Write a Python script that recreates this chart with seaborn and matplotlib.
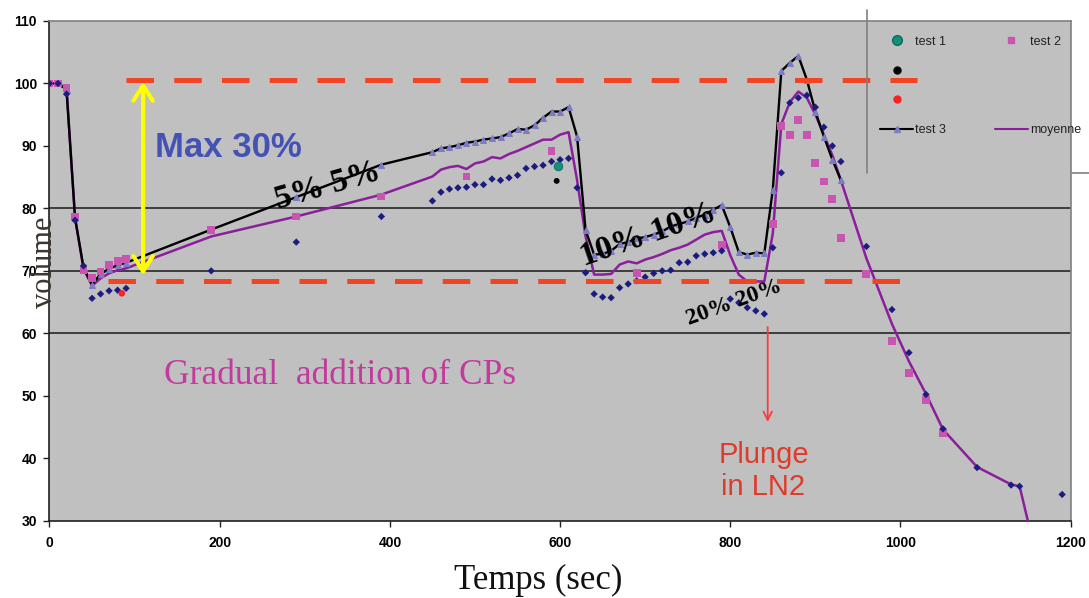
import matplotlib
matplotlib.use("Agg")
import matplotlib.pyplot as plt
from matplotlib.lines import Line2D
import pandas as pd
import seaborn as sns

# ---------------- data ----------------
test3_time = [0, 10, 20, 30, 40, 50, 60, 70, 80, 90, 190, 290, 390,
              450, 460, 470, 480, 490, 500, 510, 520, 530, 540, 550, 560, 570, 580, 590, 600, 610,
              620, 630, 640, 650, 660, 670, 680, 690, 700, 710, 720, 730, 740, 750, 760, 770, 780, 790,
              800, 810, 820, 830, 840, 850, 860, 870, 880, 890, 900, 910, 920, 930]
test3_vol = [100, 100, 99, 78.5, 70.5, 67.8, 69.5, 70.3, 70.9, 71.3, 76.6, 81.8, 87.0,
             89.0, 89.6, 89.8, 90.1, 90.5, 90.7, 91.0, 91.2, 91.4, 92.0, 92.7, 92.6, 93.3, 94.5, 95.5, 95.5, 96.2,
             91.5, 76.5, 72.6, 72.7, 73.2, 74.3, 74.6, 75.2, 75.4, 75.8, 76.3, 77.1, 77.5, 77.9, 78.5, 79.0, 79.8, 80.5,
             77.0, 73.0, 72.6, 72.9, 72.8, 83.0, 102.0, 103.3, 104.4, 100.6, 95.5, 91.5, 87.8, 84.5]

moy_time = [0, 10, 20, 30, 40, 50, 60, 70, 80, 90, 190, 290, 390,
            450, 460, 470, 480, 490, 500, 510, 520, 530, 540, 550, 560, 570, 580, 590, 600, 610,
            620, 630, 640, 650, 660, 670, 680, 690, 700, 710, 720, 730, 740, 750, 760, 770, 780, 790,
            800, 810, 820, 830, 840, 850, 860, 870, 880, 890, 900, 910, 920, 930,
            960, 990, 1010, 1030, 1050, 1090, 1130, 1140, 1150]
moy_vol = [100, 100, 99.2, 78.5, 70.3, 67.6, 68.8, 69.6, 70.1, 70.4, 75.5, 78.7, 82.2,
           85.1, 86.2, 86.6, 86.8, 86.3, 87.2, 87.5, 88.2, 88.0, 88.7, 89.2, 89.8, 90.4, 91.0, 91.0, 91.8, 92.2,
           84.5, 75.5, 69.4, 69.4, 69.5, 71.0, 71.5, 71.2, 71.8, 72.2, 72.7, 73.3, 73.7, 74.2, 75.0, 75.8, 76.2, 76.4,
           72.5, 69.4, 68.3, 68.3, 68.3, 76.0, 93.5, 97.0, 98.7, 97.7, 95.0, 91.8, 88.5, 84.5,
           72.0, 61.5, 55.5, 50.3, 44.6, 38.6, 35.8, 35.5, 29.8]

test1_time = [0, 10, 20, 30, 40, 50, 60, 70, 80, 90, 190, 290, 390,
              450, 460, 470, 480, 490, 500, 510, 520, 530, 540, 550, 560, 570, 580, 590, 600, 610,
              620, 630, 640, 650, 660, 670, 680, 690, 700, 710, 720, 730, 740, 750, 760, 770, 780, 790,
              800, 810, 820, 830, 840, 850, 860, 870, 880, 890, 900, 910, 920, 930,
              960, 990, 1010, 1030, 1050, 1090, 1130, 1140, 1190]
test1_vol = [100, 100, 98.3, 78.1, 70.8, 65.6, 66.3, 66.8, 66.9, 67.2, 70.0, 74.6, 78.7,
             81.2, 82.6, 83.1, 83.3, 83.4, 83.8, 83.8, 84.7, 84.5, 84.9, 85.3, 86.4, 86.7, 86.9, 87.5, 87.8, 88.0,
             83.3, 69.7, 66.3, 65.8, 65.7, 67.3, 67.9, 68.4, 69.0, 69.6, 70.0, 70.1, 71.3, 71.4, 72.4, 72.7, 72.9, 73.2,
             65.5, 64.9, 64.1, 63.6, 63.1, 73.7, 85.7, 96.9, 97.7, 98.1, 96.2, 93.0, 90.0, 87.5,
             73.9, 63.8, 56.9, 50.2, 44.7, 38.5, 35.7, 35.5, 34.2]

test2_time = [0, 10, 20, 30, 40, 50, 60, 70, 80, 90, 190, 290, 390, 490, 590, 690, 790,
              850, 860, 870, 880, 890, 900, 910, 920, 930, 960, 990, 1010, 1030, 1050]
test2_vol = [100, 100, 99.3, 78.7, 70.2, 68.8, 69.9, 71.0, 71.6, 71.9, 76.5, 78.7, 81.9, 85.1, 89.2, 69.7, 74.1,
             77.5, 93.2, 91.8, 94.1, 91.7, 87.3, 84.3, 81.5, 75.3, 69.5, 58.7, 53.7, 49.3, 44.0]

green_time, green_vol = [597], [86.8]
black_time, black_vol = [596], [84.4]
red_time, red_vol = [85], [66.4]

ref_levels = [100.6, 68.4]          # dashed red reference levels
ref_starts = [90, 69]
ref_ends = [1020, 1006]
grid_levels = [60, 70, 80]
x_ticks = [0, 200, 400, 600, 800, 1000, 1200]
y_ticks = [30, 40, 50, 60, 70, 80, 90, 100, 110]

# ---------------- style ----------------
sns.set_style("white")
plt.rcParams['font.family'] = ['Liberation Sans', 'DejaVu Sans']
plt.rcParams['text.color'] = 'black'

fig = plt.figure(figsize=(10.89, 5.98), dpi=100)
ax = fig.add_axes([0.04545, 0.1293, 0.9377, 0.8356])
ax.set_facecolor('#C0C0C0')

for g in grid_levels:
    ax.axhline(g, color='#1a1a1a', lw=1.1, zorder=1)

# lines
sns.lineplot(x=moy_time, y=moy_vol, ax=ax, color='#8B1F9B', lw=1.8, sort=False,
             estimator=None, zorder=3)
sns.lineplot(x=test3_time, y=test3_vol, ax=ax, color='black', lw=1.7, sort=False,
             estimator=None, marker='^', markersize=5, markerfacecolor='#7C7CC4',
             markeredgecolor='#7C7CC4', zorder=3)

# scatter series
sns.scatterplot(x=test2_time, y=test2_vol, ax=ax, marker='s', s=32, color='#C856B0',
                edgecolor='none', zorder=4)
sns.scatterplot(x=test1_time, y=test1_vol, ax=ax, marker='D', s=14, color='#1C1C80',
                edgecolor='none', zorder=4)
sns.scatterplot(x=green_time, y=green_vol, ax=ax, marker='o', s=40, color='#12907A',
                edgecolor='#0B6B5A', zorder=5)
sns.scatterplot(x=black_time, y=black_vol, ax=ax, marker='o', s=18, color='black',
                edgecolor='none', zorder=5)
sns.scatterplot(x=red_time, y=red_vol, ax=ax, marker='o', s=22, color='#FF2020',
                edgecolor='none', zorder=5)

# dashed reference lines
for lev, a, b in zip(ref_levels, ref_starts, ref_ends):
    ax.plot([a, b], [lev, lev], color='#F04424', lw=3.6, ls=(0, (5.5, 4.05)),
            dash_capstyle='butt', zorder=6)

# arrows
ax.annotate('', xy=(110, 100.3), xytext=(110, 69.3),
            arrowprops=dict(arrowstyle='<->,head_length=1.1,head_width=0.7',
                            color='#FFFF00', lw=3, shrinkA=0, shrinkB=0), zorder=7)
ax.annotate('', xy=(844, 45.8), xytext=(844, 61.0),
            arrowprops=dict(arrowstyle='->,head_length=0.6,head_width=0.3',
                            color='#FF3A3A', lw=1.3, shrinkA=0, shrinkB=0), zorder=7)

# annotation texts
ax.text(124, 89.7, 'Max 30%', color='#4352B4', fontsize=25, fontweight='bold',
        ha='left', va='center', zorder=8)
ax.text(327, 83.6, '5% 5%', family='Liberation Serif', fontsize=24, fontweight='bold',
        color='black', rotation=16, ha='center', va='center', rotation_mode='anchor', zorder=8)
ax.text(704, 75.8, '10% 10%', family='Liberation Serif', fontsize=24, fontweight='bold',
        color='black', rotation=19, ha='center', va='center', rotation_mode='anchor', zorder=8)
ax.text(804, 64.9, '20% 20%', family='Liberation Serif', fontsize=17, fontweight='bold',
        color='black', rotation=20, ha='center', va='center', rotation_mode='anchor', zorder=8)
ax.text(134, 53.3, 'Gradual  addition of CPs', family='Liberation Serif', fontsize=25.5,
        color='#C23A9E', ha='left', va='center', zorder=8)
ax.text(839, 38.0, 'Plunge\nin LN2', fontsize=21, color='#E03A2A', ha='center',
        va='center', linespacing=1.2, zorder=8)

# axes
ax.set_xlim(0, 1200)
ax.set_ylim(30, 110)
ax.set_xticks(x_ticks)
ax.set_yticks(y_ticks)
ax.tick_params(axis='both', direction='out', length=4, width=1, labelsize=10,
               color='#202020', labelcolor='black', left=True, bottom=True)
ax.tick_params(axis='x', pad=7)
ax.tick_params(axis='y', pad=5)
for lab in ax.get_xticklabels() + ax.get_yticklabels():
    lab.set_fontweight('bold')
ax.set_xlabel('')
ax.set_ylabel('')
for side in ['left', 'bottom']:
    ax.spines[side].set_color('#202020')
    ax.spines[side].set_linewidth(1.2)
for side in ['top', 'right']:
    ax.spines[side].set_color('#808080')
    ax.spines[side].set_linewidth(1.2)

fig.text(45 / 1089, 1 - 262 / 598, 'volume', rotation=90, family='Liberation Serif',
         fontsize=22, color='#3d3630', ha='center', va='center')
fig.text(538 / 1089, 1 - 580 / 598, 'Temps (sec)', family='Liberation Serif',
         fontsize=25, color='#111111', ha='center', va='center')

# legend
h_t1 = Line2D([], [], ls='none', marker='o', ms=7, mfc='#12907A', mec='#0B6B5A')
h_blk = Line2D([], [], ls='none', marker='o', ms=5, mfc='black', mec='black')
h_red = Line2D([], [], ls='none', marker='o', ms=5, mfc='#FF2020', mec='#FF2020')
h_t3 = Line2D([], [], color='black', lw=1.5, marker='^', ms=5, mfc='#7C7CC4', mec='#7C7CC4')
h_t2 = Line2D([], [], ls='none', marker='s', ms=5, mfc='#C856B0', mec='#C856B0')
h_emp = Line2D([], [], ls='none')
h_moy = Line2D([], [], color='#8B1F9B', lw=1.5)
leg = ax.legend([h_t1, h_blk, h_red, h_t3, h_t2, h_emp, h_emp, h_moy],
                ['test 1', '', '', 'test 3', 'test 2', '', '', 'moyenne'],
                ncol=2, loc='upper left', bbox_to_anchor=(0.8075, 0.983), frameon=False,
                borderpad=0, handlelength=2.6, handletextpad=0.2, columnspacing=3.9,
                labelspacing=1.4, fontsize=9)
for txt in leg.get_texts():
    txt.set_color('#222222')
leg.set_zorder(9)

fig.add_artist(Line2D([867 / 1089, 867 / 1089], [1 - 10 / 598, 1 - 173 / 598],
                      transform=fig.transFigure, color='#808080', lw=1.2))
fig.add_artist(Line2D([1072 / 1089, 1.0], [1 - 173 / 598, 1 - 173 / 598],
                      transform=fig.transFigure, color='#808080', lw=1.2))

fig.savefig('out.png', dpi=100)
